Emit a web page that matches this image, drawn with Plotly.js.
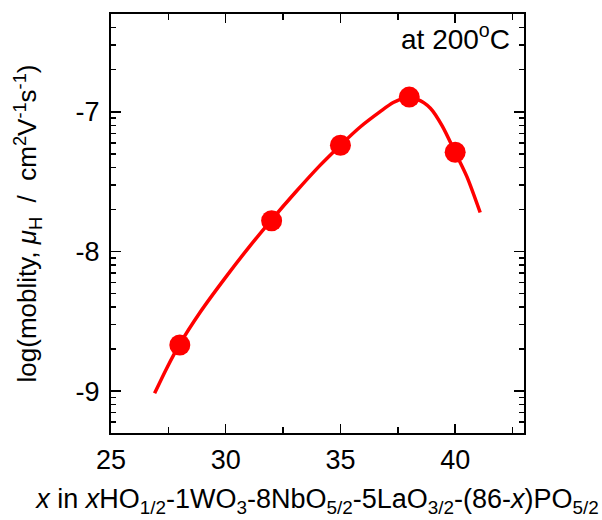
<!DOCTYPE html>
<html>
<head>
<meta charset="utf-8">
<script src="https://cdn.plot.ly/plotly-3.0.1.min.js"></script>
<style>
  html, body { margin: 0; padding: 0; background: #fff; }
  #chart { width: 602px; height: 520px; }
</style>
</head>
<body>
<div id="chart"></div>
<script>
// Measured compositions x and log(mobility)
const compX = [28, 32, 35, 38, 40];
const logMobility = [-8.67, -7.78, -7.24, -6.895, -7.29];

// Fitted guide curve
const fitX = [26.9, 27.43, 27.97, 28.87, 29.97, 31.06, 31.97, 33.02, 34.11, 34.99, 35.86, 36.73, 37.3, 37.83, 38.35, 38.92, 39.44, 40.01, 40.51, 41.09];
const fitY = [-9.016, -8.836, -8.671, -8.439, -8.191, -7.96, -7.779, -7.58, -7.384, -7.241, -7.109, -6.999, -6.934, -6.901, -6.911, -6.974, -7.102, -7.293, -7.464, -7.721];

// Axis ticks
const xTickVals = [25, 30, 35, 40];
const xTickText = ['25', '30', '35', '40'];
const yTickVals = [-9, -8, -7];
const yTickText = ['-9', '-8', '-7'];

// log-decade minor ticks (log10 of 2..9 within each decade)
const yMinor = [];
[-10, -9, -8, -7].forEach(k => {
  for (let d = 2; d <= 9; d++) {
    const v = k + Math.log10(d);
    if (v > -9.3 && v < -6.3) yMinor.push(v);
  }
});

const FONT = 'Liberation Sans, Arial, sans-serif';

const traces = [
  {
    x: fitX, y: fitY, type: 'scatter', mode: 'lines',
    line: { color: '#ff0000', width: 3.5, shape: 'spline', smoothing: 0.8 },
    hoverinfo: 'skip', showlegend: false
  },
  {
    x: compX, y: logMobility, type: 'scatter', mode: 'markers',
    marker: { color: '#ff0000', size: 21, line: { width: 0 } },
    showlegend: false
  }
];

const layout = {
  width: 602, height: 520,
  margin: { l: 111, r: 78, t: 14, b: 87 },
  paper_bgcolor: '#fff', plot_bgcolor: '#fff',
  font: { family: FONT, color: '#000', size: 27 },
  showlegend: false,
  xaxis: {
    range: [25, 43], fixedrange: true,
    tickmode: 'array', tickvals: xTickVals, ticktext: xTickText,
    ticks: 'inside', ticklen: 9, tickwidth: 1.5, tickcolor: '#000',
    minor: { dtick: 2.5, tick0: 25, ticks: 'inside', ticklen: 6, tickwidth: 1.5, tickcolor: '#000', showgrid: false },
    showline: true, linecolor: '#000', linewidth: 2, mirror: 'allticks',
    showgrid: false, zeroline: false,
    tickfont: { family: FONT, size: 27, color: '#000' },
    ticklabelstandoff: 2,
    title: {
      text: '<i>x</i> in <i>x</i>HO<sub>1/2</sub>-1WO<sub>3</sub>-8NbO<sub>5/2</sub>-5LaO<sub>3/2</sub>-(86-<i>x</i>)PO<sub>5/2</sub>',
      font: { family: FONT, size: 27, color: '#000' },
      standoff: 15
    },
    automargin: false
  },
  yaxis: {
    range: [-9.3, -6.3], fixedrange: true,
    tickmode: 'array', tickvals: yTickVals, ticktext: yTickText,
    ticks: 'inside', ticklen: 10, tickwidth: 1.5, tickcolor: '#000',
    minor: { tickmode: 'array', tickvals: yMinor, ticks: 'inside', ticklen: 5, tickwidth: 1.5, tickcolor: '#000', showgrid: false },
    showline: true, linecolor: '#000', linewidth: 2, mirror: 'allticks',
    showgrid: false, zeroline: false,
    tickfont: { family: FONT, size: 27, color: '#000' },
    ticklabelstandoff: 4,
    title: {
      text: 'log(moblity, <i>μ</i><sub>H</sub>  /  cm<sup>2</sup>V<sup>-1</sup>s<sup>-1</sup>)',
      font: { family: FONT, size: 26, color: '#000' },
      standoff: 31
    },
    automargin: false
  },
  annotations: [
    {
      xref: 'paper', yref: 'paper', x: 0.97, y: 0.945,
      xanchor: 'right', yanchor: 'middle', showarrow: false,
      text: 'at 200<sup>o</sup>C',
      font: { family: FONT, size: 28, color: '#000' }
    }
  ]
};

Plotly.newPlot('chart', traces, layout, { displayModeBar: false, staticPlot: true });
</script>
</body>
</html>
